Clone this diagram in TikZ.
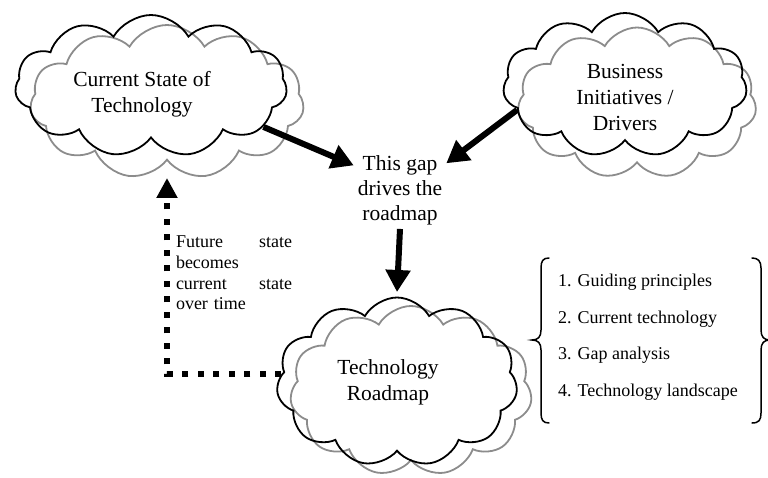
\documentclass[tikz,border=0pt]{standalone}
\usepackage{fontspec}
\setmainfont{Liberation Serif}
\usetikzlibrary{shapes.symbols,arrows.meta}
\definecolor{cgray}{RGB}{140,140,140}
\begin{document}
\begin{tikzpicture}[x=1pt,y=-1pt,
  cloudbase/.style={cloud, cloud puffs=11, cloud puff arc=120, cloud ignores aspect, line width=1.8pt, inner sep=0pt},
  blackcloud/.style={cloudbase, draw=black},
  graycloud/.style={cloudbase, draw=cgray},
  bigtxt/.style={font=\fontsize{21.5}{26}\selectfont, align=center, inner sep=0pt},
  gaptxt/.style={font=\fontsize{21.5}{25}\selectfont, align=center, inner sep=4pt},
  bigarrow/.style={line width=6pt, -{Triangle[length=22pt,width=24pt]}},
  dotarrow/.style={line width=6pt, dash pattern=on 6pt off 9.5pt, -{Triangle[length=20pt,width=20pt]}},
  bracestyle/.style={line width=1.5pt, line cap=round}
  ]
\useasboundingbox (0,0) rectangle (768,478);
% clouds
\node[graycloud, minimum width=274pt, minimum height=154pt] (csg) at (167,102) {};
\node[blackcloud, minimum width=272pt, minimum height=142pt] (cs) at (151,86) {};
\node[graycloud, minimum width=239pt, minimum height=151pt] (big) at (637,103) {};
\node[blackcloud, minimum width=244pt, minimum height=144pt] (bi) at (625,85) {};
\node[graycloud, minimum width=242pt, minimum height=170pt] (trg) at (411,391) {};
\node[blackcloud, minimum width=241pt, minimum height=169pt] (tr) at (397,382) {};
% texts
\node[bigtxt] (cst) at (142,94) {Current State of\\Technology};
\node[bigtxt] (bit) at (625,97) {Business\\Initiatives /\\Drivers};
\node[bigtxt] (trt) at (388,382) {Technology\\Roadmap};
\node[gaptxt] (gap) at (400,190) {This gap\\drives the\\roadmap};
\node[font=\fontsize{18}{20.7}\selectfont, text width=116pt, align=left, inner sep=0pt] (fut) at (234,273)
  {Future\hfill state\\becomes\\current\hfill state\\over time};
\node[font=\fontsize{18}{36.5}\selectfont, align=left, inner sep=0pt, anchor=west] (lst) at (558,337)
  {1. Guiding principles\\2. Current technology\\3. Gap analysis\\4. Technology landscape};
% arrows
\draw[bigarrow] (cs.-20) -- (gap.152);
\draw[bigarrow] (bi.193) -- (gap.30);
\draw[bigarrow] (gap.south) -- ([yshift=90pt]tr.center);
\draw[dotarrow] (tr.176) -| ([yshift=-76pt]csg.center);
% braces
\draw[bracestyle] (549,258) .. controls (543,258) and (541,261) .. (541,268)
  -- (541,330) .. controls (541,337) and (538,340) .. (532,340)
  .. controls (538,340) and (541,343) .. (541,350)
  -- (541,413) .. controls (541,420) and (543,423) .. (549,423);
\draw[bracestyle] (752,258) .. controls (758,258) and (761,261) .. (761,268)
  -- (761,330) .. controls (761,337) and (764,340) .. (770,340)
  .. controls (764,340) and (761,343) .. (761,350)
  -- (761,413) .. controls (761,420) and (759,423) .. (752,423);
\end{tikzpicture}
\end{document}
